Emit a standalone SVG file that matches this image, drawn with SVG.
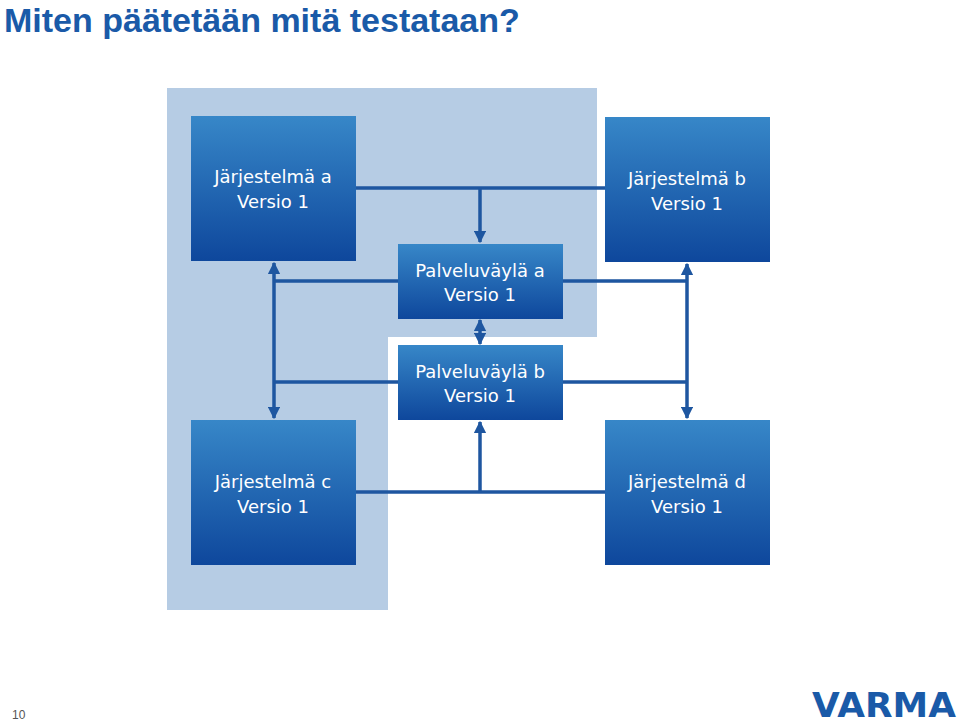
<svg xmlns="http://www.w3.org/2000/svg" width="960" height="726" viewBox="0 0 960 726">
<defs>
<linearGradient id="g" x1="0" y1="0" x2="0" y2="1"><stop offset="0" stop-color="#3787c8"/><stop offset="1" stop-color="#0e479c"/></linearGradient>
<marker id="ar" viewBox="0 0 10 10" refX="9" refY="5" markerWidth="3.5" markerHeight="3.5" orient="auto-start-reverse"><path d="M0,0L10,5L0,10z" fill="#1e56a0"/></marker>
<style>
.b{fill:url(#g)}
.t{font-family:"DejaVu Sans",sans-serif;font-size:18px;fill:#fff;text-anchor:middle}
.c{stroke:#1e56a0;stroke-width:3.5;fill:none}
</style>
</defs>
<rect width="960" height="726" fill="#fff"/>
<text x="4" y="32" font-family="Liberation Sans, sans-serif" font-weight="bold" font-size="34" fill="#1a5aa8">Miten päätetään mitä testataan?</text>
<polygon points="167,88 597,88 597,337 388,337 388,610 167,610" fill="#b6cce4"/>
<g id="connectors">
<path class="c" d="M356,188H605"/>
<path class="c" d="M480,188V242" marker-end="url(#ar)"/>
<path class="c" d="M274,263V418" marker-start="url(#ar)" marker-end="url(#ar)"/>
<path class="c" d="M687,264V418" marker-start="url(#ar)" marker-end="url(#ar)"/>
<path class="c" d="M274,281H398M563,281H687M274,382H398M563,382H687"/>
<path class="c" d="M480,320V344" marker-start="url(#ar)" marker-end="url(#ar)"/>
<path class="c" d="M356,492H605"/>
<path class="c" d="M480,492V422" marker-end="url(#ar)"/>
</g>
<g id="sa"><rect class="b" x="191" y="116" width="165" height="145"/><text class="t" x="273" y="183">Järjestelmä a</text><text class="t" x="273" y="208">Versio 1</text></g>
<g id="sb"><rect class="b" x="605" y="117" width="165" height="145"/><text class="t" x="687" y="185">Järjestelmä b</text><text class="t" x="687" y="210">Versio 1</text></g>
<g id="pa"><rect class="b" x="398" y="244" width="165" height="75"/><text class="t" x="480" y="277">Palveluväylä a</text><text class="t" x="480" y="301">Versio 1</text></g>
<g id="pb"><rect class="b" x="398" y="345" width="165" height="75"/><text class="t" x="480" y="378">Palveluväylä b</text><text class="t" x="480" y="402">Versio 1</text></g>
<g id="sc"><rect class="b" x="191" y="420" width="165" height="145"/><text class="t" x="273" y="488">Järjestelmä c</text><text class="t" x="273" y="513">Versio 1</text></g>
<g id="sd"><rect class="b" x="605" y="420" width="165" height="145"/><text class="t" x="687" y="488">Järjestelmä d</text><text class="t" x="687" y="513">Versio 1</text></g>
<text x="12" y="719" font-family="Liberation Sans, sans-serif" font-size="12" fill="#555">10</text>
<text x="956" y="717" text-anchor="end" font-family="DejaVu Sans, sans-serif" font-weight="bold" font-size="34" fill="#1a5aa8" textLength="144" lengthAdjust="spacingAndGlyphs">VARMA</text>
</svg>
